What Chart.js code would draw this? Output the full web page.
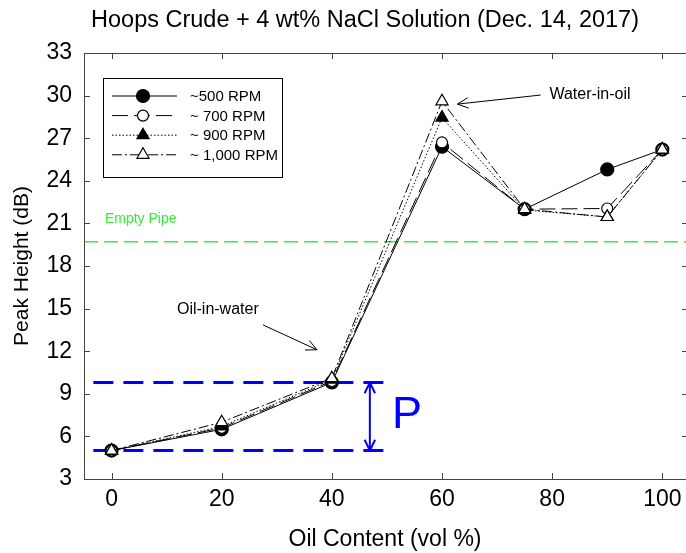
<!DOCTYPE html>
<html>
<head>
<meta charset="utf-8">
<script src="https://cdn.jsdelivr.net/npm/chart.js@4.4.0/dist/chart.umd.min.js"></script>
<style>
  html, body { margin: 0; padding: 0; background: #fff; overflow: hidden; }
  #wrap { position: relative; width: 686px; height: 553px; }
</style>
</head>
<body>
<div id="wrap"><canvas id="peakChart"></canvas></div>
<script>
// Oil content (vol %) and peak height (dB) per mixing speed
const oilContent = [0, 20, 40, 60, 75, 90, 100];
const rpm500 = [5.0, 6.5, 9.8, 26.4, 22.0, 24.8, 26.2];
const rpm700 = [5.0, 6.6, 9.9, 26.7, 22.0, 22.05, 26.2];
const rpm900 = [5.0, 6.7, 10.0, 28.45, 21.95, 21.45, 26.2];
const rpm1000 = [5.0, 7.0, 10.1, 29.6, 22.0, 21.45, 26.2];
const seriesLabels = ['~500 RPM', '~ 700 RPM', '~ 900 RPM', '~ 1,000 RPM'];
const xTicks = [0, 20, 40, 60, 80, 100];
const yTicks = [3, 6, 9, 12, 15, 18, 21, 24, 27, 30, 33];
const emptyPipe = 19.7;
const pRange = [5.0, 9.8];

const FONT = "'Liberation Sans', Arial, Helvetica, sans-serif";

function pts(vals) {
  return vals.map((v, i) => ({ x: oilContent[i], y: v }));
}

const seriesStyle = [
  { data: rpm500, dash: [], style: 'circle', fill: '#000', r: 6.5 },
  { data: rpm700, dash: [16, 6], style: 'circle', fill: '#fff', r: 5.5 },
  { data: rpm900, dash: [1.5, 2], style: 'triangle', fill: '#000', r: 7 },
  { data: rpm1000, dash: [10, 3, 2, 3], style: 'triangle', fill: '#fff', r: 7 }
];

const datasets = seriesStyle.map((s, i) => ({
  label: seriesLabels[i],
  data: pts(s.data),
  borderColor: '#000',
  borderWidth: 1,
  borderDash: s.dash,
  pointStyle: s.style,
  pointRadius: s.r,
  pointBackgroundColor: s.fill,
  pointBorderColor: '#000',
  pointBorderWidth: 1.2,
  tension: 0,
  order: 3 - i
}));

function arrowHead(ctx, x1, y1, x2, y2, len) {
  const a = Math.atan2(y2 - y1, x2 - x1);
  ctx.moveTo(x2, y2);
  ctx.lineTo(x2 - len * Math.cos(a - 0.45), y2 - len * Math.sin(a - 0.45));
  ctx.moveTo(x2, y2);
  ctx.lineTo(x2 - len * Math.cos(a + 0.45), y2 - len * Math.sin(a + 0.45));
}

// reference lines behind the data
const refLines = {
  id: 'refLines',
  beforeDatasetsDraw(chart) {
    const { ctx, chartArea: a, scales: { x, y } } = chart;
    ctx.save();
    // empty pipe level
    const gy = y.getPixelForValue(emptyPipe);
    ctx.strokeStyle = '#33ee33';
    ctx.lineWidth = 1.5;
    ctx.setLineDash([14, 6]);
    ctx.beginPath();
    ctx.moveTo(a.left, gy); ctx.lineTo(a.right, gy);
    ctx.stroke();
    ctx.setLineDash([]);
    ctx.fillStyle = '#33ee33';
    ctx.font = '14px ' + FONT;
    ctx.textBaseline = 'middle';
    ctx.fillText('Empty Pipe', x.getPixelForValue(-1.2), y.getPixelForValue(21.3));

    // P bracket
    ctx.strokeStyle = '#0000ff';
    ctx.lineWidth = 3;
    ctx.setLineDash([20, 10]);
    ctx.beginPath();
    pRange.forEach(v => {
      const py = y.getPixelForValue(v);
      ctx.moveTo(x.getPixelForValue(-3.3), py);
      ctx.lineTo(x.getPixelForValue(49.6), py);
    });
    ctx.stroke();
    ctx.setLineDash([]);
    const ax = x.getPixelForValue(46.9);
    const y1 = y.getPixelForValue(pRange[1]);
    const y2 = y.getPixelForValue(pRange[0]);
    ctx.lineWidth = 2;
    ctx.beginPath();
    ctx.moveTo(ax, y1); ctx.lineTo(ax, y2);
    arrowHead(ctx, ax, y2, ax, y1, 12);
    arrowHead(ctx, ax, y1, ax, y2, 12);
    ctx.stroke();
    ctx.fillStyle = '#0000ff';
    ctx.font = '45px ' + FONT;
    ctx.textBaseline = 'middle';
    ctx.fillText('P', x.getPixelForValue(50.9), y.getPixelForValue(7.44));
    ctx.restore();
  }
};

// frame, inward ticks, title, notes, legend
const decor = {
  id: 'decor',
  afterDraw(chart) {
    const { ctx, chartArea: a, scales: { x, y } } = chart;
    ctx.save();
    ctx.strokeStyle = '#444';
    ctx.lineWidth = 1;
    // right edge of the frame sits just past the canvas, as in the cropped original
    ctx.strokeRect(a.left + 0.5, a.top + 0.5, a.right - a.left + 1, a.bottom - a.top);
    ctx.beginPath();
    x.ticks.forEach(t => {
      const px = Math.round(x.getPixelForValue(t.value)) + 0.5;
      ctx.moveTo(px, a.bottom); ctx.lineTo(px, a.bottom - 6);
      ctx.moveTo(px, a.top); ctx.lineTo(px, a.top + 6);
    });
    y.ticks.forEach(t => {
      const py = Math.round(y.getPixelForValue(t.value)) + 0.5;
      ctx.moveTo(a.left, py); ctx.lineTo(a.left + 6, py);
      ctx.moveTo(a.right, py); ctx.lineTo(a.right - 4, py);
    });
    ctx.stroke();

    // title
    ctx.fillStyle = '#000';
    ctx.font = '23.5px ' + FONT;
    ctx.textAlign = 'center';
    ctx.textBaseline = 'middle';
    ctx.fillText('Hoops Crude + 4 wt% NaCl Solution (Dec. 14, 2017)', 365, 21);

    // notes with arrows
    ctx.font = '16px ' + FONT;
    ctx.textAlign = 'left';
    ctx.fillText('Water-in-oil', x.getPixelForValue(79.5), y.getPixelForValue(30.04));
    ctx.textAlign = 'center';
    ctx.fillText('Oil-in-water', x.getPixelForValue(19.3), y.getPixelForValue(14.9));
    ctx.strokeStyle = '#000';
    ctx.lineWidth = 1;
    ctx.beginPath();
    const notes = [[77.9, 30.04, 62.8, 29.4], [27.5, 13.85, 37.3, 12.1]];
    notes.forEach(n => {
      const sx = x.getPixelForValue(n[0]), sy = y.getPixelForValue(n[1]);
      const ex = x.getPixelForValue(n[2]), ey = y.getPixelForValue(n[3]);
      ctx.moveTo(sx, sy); ctx.lineTo(ex, ey);
      arrowHead(ctx, sx, sy, ex, ey, 12);
    });
    ctx.stroke();

    // legend
    const bx = 103, by = 78, bw = 179, bh = 99;
    ctx.fillStyle = '#fff';
    ctx.fillRect(bx, by, bw, bh);
    ctx.strokeStyle = '#000';
    ctx.strokeRect(bx + 0.5, by + 0.5, bw, bh);
    chart.data.datasets.forEach((ds, i) => {
      const ry = by + 18 + i * 19.6;
      ctx.strokeStyle = '#000';
      ctx.lineWidth = 1;
      ctx.setLineDash(ds.borderDash);
      ctx.beginPath();
      ctx.moveTo(bx + 9, ry); ctx.lineTo(bx + 74, ry);
      ctx.stroke();
      ctx.setLineDash([]);
      ctx.fillStyle = ds.pointBackgroundColor;
      ctx.lineWidth = 1.2;
      Chart.helpers.drawPoint(ctx, { pointStyle: ds.pointStyle, radius: ds.pointRadius, borderWidth: 1.2, rotation: 0 }, bx + 40, ry);
      ctx.fillStyle = '#000';
      ctx.font = '15px ' + FONT;
      ctx.textAlign = 'left';
      ctx.textBaseline = 'middle';
      ctx.fillText(ds.label, bx + 87, ry + 1);
    });
    ctx.restore();
  }
};

new Chart(document.getElementById('peakChart'), {
  type: 'line',
  data: { datasets },
  options: {
    responsive: true,
    maintainAspectRatio: false,
    animation: false,
    layout: { autoPadding: false, padding: { top: 53, right: 0, left: 0, bottom: 0 } },
    plugins: { legend: { display: false }, tooltip: { enabled: false } },
    scales: {
      x: {
        type: 'linear',
        min: -5,
        max: 104.3,
        afterBuildTicks: s => { s.ticks = xTicks.map(v => ({ value: v })); },
        afterFit: s => { s.height = 74; s.paddingLeft = 0; s.paddingRight = 0; },
        grid: { display: false, drawTicks: false },
        border: { display: false },
        ticks: { color: '#000', padding: 7, font: { family: FONT, size: 23 } },
        title: {
          display: true,
          text: 'Oil Content (vol %)',
          color: '#000',
          font: { family: FONT, size: 23 },
          padding: { top: 0, bottom: 0 }
        }
      },
      y: {
        min: 3,
        max: 33,
        afterBuildTicks: s => { s.ticks = yTicks.map(v => ({ value: v })); },
        afterFit: s => { s.width = 84; s.paddingTop = 0; s.paddingBottom = 0; },
        grid: { display: false, drawTicks: false },
        border: { display: false },
        ticks: { color: '#000', padding: 12, font: { family: FONT, size: 23 } },
        title: {
          display: true,
          text: 'Peak Height (dB)',
          color: '#000',
          font: { family: FONT, size: 21 },
          padding: { top: 10, bottom: 0 }
        }
      }
    }
  },
  plugins: [refLines, decor]
});
</script>
</body>
</html>
